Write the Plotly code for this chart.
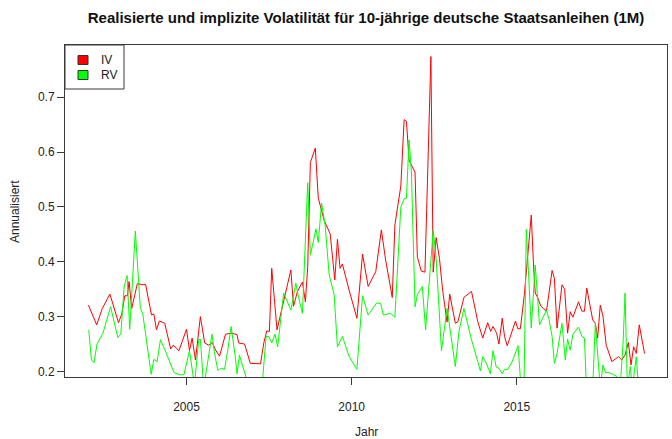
import plotly.graph_objects as go

# Implied volatility (IV)
iv_year = [2002.03, 2002.15, 2002.28, 2002.45, 2002.68, 2002.94, 2003.04, 2003.13, 2003.21, 2003.26,
           2003.34, 2003.51, 2003.71, 2003.76, 2003.94, 2004.01, 2004.09, 2004.18, 2004.34, 2004.52,
           2004.60, 2004.77, 2005.00, 2005.09, 2005.17, 2005.27, 2005.42, 2005.55, 2005.67, 2005.78,
           2005.88, 2006.00, 2006.18, 2006.38, 2006.53, 2006.58, 2006.76, 2006.93, 2007.24, 2007.34,
           2007.43, 2007.51, 2007.58, 2007.74, 2007.98, 2008.16, 2008.24, 2008.36, 2008.51, 2008.60,
           2008.67, 2008.75, 2008.90, 2008.99, 2009.17, 2009.35, 2009.49, 2009.57, 2009.65, 2009.72,
           2009.92, 2010.16, 2010.33, 2010.50, 2010.73, 2010.90, 2011.03, 2011.23, 2011.31, 2011.49,
           2011.59, 2011.66, 2011.74, 2011.81, 2011.92, 2011.99, 2012.11, 2012.22, 2012.40, 2012.47,
           2012.56, 2012.66, 2012.76, 2012.89, 2012.97, 2013.14, 2013.22, 2013.40, 2013.63, 2013.82,
           2013.97, 2014.12, 2014.21, 2014.28, 2014.39, 2014.46, 2014.56, 2014.63, 2014.71, 2014.83,
           2014.96, 2015.03, 2015.11, 2015.23, 2015.34, 2015.44, 2015.51, 2015.56, 2015.64, 2015.73,
           2015.81, 2015.90, 2015.97, 2016.07, 2016.14, 2016.22, 2016.37, 2016.45, 2016.54, 2016.62,
           2016.70, 2016.87, 2016.97, 2017.05, 2017.12, 2017.23, 2017.30, 2017.38, 2017.45, 2017.53,
           2017.61, 2017.71, 2017.88, 2018.08, 2018.18, 2018.28, 2018.38, 2018.46, 2018.54, 2018.62,
           2018.71, 2018.87]
iv_value = [0.321, 0.303, 0.285, 0.315, 0.341, 0.289, 0.305, 0.338, 0.338, 0.364,
            0.315, 0.360, 0.358, 0.359, 0.303, 0.305, 0.276, 0.292, 0.288, 0.241,
            0.248, 0.238, 0.277, 0.238, 0.261, 0.221, 0.300, 0.252, 0.248, 0.253,
            0.239, 0.228, 0.268, 0.270, 0.267, 0.252, 0.250, 0.215, 0.214, 0.252,
            0.274, 0.273, 0.388, 0.276, 0.338, 0.385, 0.319, 0.346, 0.363, 0.327,
            0.391, 0.581, 0.607, 0.516, 0.475, 0.451, 0.367, 0.441, 0.388, 0.396,
            0.349, 0.297, 0.414, 0.355, 0.382, 0.458, 0.403, 0.335, 0.467, 0.538,
            0.659, 0.656, 0.585, 0.576, 0.563, 0.409, 0.383, 0.381, 0.774, 0.381,
            0.444, 0.406, 0.346, 0.290, 0.341, 0.288, 0.291, 0.335, 0.346, 0.291,
            0.261, 0.289, 0.273, 0.282, 0.270, 0.250, 0.297, 0.264, 0.247, 0.268,
            0.292, 0.278, 0.278, 0.340, 0.425, 0.485, 0.391, 0.343, 0.334, 0.319,
            0.315, 0.310, 0.340, 0.384, 0.370, 0.279, 0.358, 0.350, 0.270, 0.309,
            0.299, 0.327, 0.310, 0.310, 0.352, 0.318, 0.294, 0.288, 0.261, 0.321,
            0.301, 0.248, 0.218, 0.227, 0.221, 0.230, 0.253, 0.212, 0.245, 0.233,
            0.285, 0.233]

# Realized volatility (RV)
rv_year = [2002.04, 2002.12, 2002.20, 2002.29, 2002.47, 2002.70, 2002.92, 2003.01, 2003.11, 2003.20,
           2003.28, 2003.45, 2003.60, 2003.68, 2003.93, 2004.01, 2004.11, 2004.21, 2004.37, 2004.52,
           2004.62, 2004.79, 2004.92, 2005.09, 2005.19, 2005.24, 2005.37, 2005.42, 2005.52, 2005.77,
           2005.85, 2005.95, 2006.05, 2006.15, 2006.25, 2006.35, 2006.47, 2006.53, 2006.60, 2006.73,
           2006.81, 2006.95, 2007.20, 2007.31, 2007.41, 2007.49, 2007.58, 2007.68, 2007.76, 2007.94,
           2008.16, 2008.31, 2008.39, 2008.51, 2008.67, 2008.75, 2008.92, 2008.99, 2009.09, 2009.20,
           2009.32, 2009.47, 2009.57, 2009.72, 2009.92, 2010.16, 2010.33, 2010.50, 2010.76, 2010.88,
           2010.96, 2011.18, 2011.31, 2011.49, 2011.59, 2011.66, 2011.74, 2011.81, 2011.92, 2011.99,
           2012.14, 2012.24, 2012.47, 2012.56, 2012.72, 2012.89, 2012.97, 2013.14, 2013.25, 2013.40,
           2013.63, 2013.90, 2013.97, 2014.08, 2014.20, 2014.28, 2014.38, 2014.46, 2014.56, 2014.63,
           2014.73, 2014.86, 2015.04, 2015.13, 2015.22, 2015.29, 2015.44, 2015.56, 2015.69, 2015.81,
           2015.90, 2015.97, 2016.07, 2016.14, 2016.22, 2016.37, 2016.47, 2016.54, 2016.62, 2016.70,
           2016.87, 2016.97, 2017.05, 2017.11, 2017.30, 2017.38, 2017.53, 2017.61, 2017.69, 2017.79,
           2017.88, 2018.03, 2018.13, 2018.22, 2018.28, 2018.35, 2018.44, 2018.50, 2018.62, 2018.69]
rv_value = [0.276, 0.221, 0.216, 0.250, 0.270, 0.318, 0.262, 0.268, 0.354, 0.375,
            0.277, 0.456, 0.317, 0.303, 0.195, 0.222, 0.218, 0.258, 0.236, 0.215,
            0.198, 0.194, 0.194, 0.238, 0.200, 0.175, 0.258, 0.259, 0.170, 0.268,
            0.233, 0.202, 0.206, 0.204, 0.239, 0.282, 0.230, 0.196, 0.230, 0.203,
            0.188, 0.170, 0.170, 0.190, 0.264, 0.264, 0.252, 0.268, 0.245, 0.343,
            0.312, 0.361, 0.336, 0.306, 0.544, 0.412, 0.460, 0.435, 0.507, 0.465,
            0.376, 0.340, 0.245, 0.264, 0.228, 0.204, 0.338, 0.303, 0.325, 0.324,
            0.303, 0.306, 0.299, 0.500, 0.515, 0.516, 0.622, 0.564, 0.318, 0.340,
            0.355, 0.276, 0.458, 0.406, 0.238, 0.315, 0.282, 0.209, 0.273, 0.315,
            0.258, 0.201, 0.227, 0.215, 0.196, 0.238, 0.208, 0.206, 0.196, 0.204,
            0.204, 0.218, 0.247, 0.170, 0.170, 0.459, 0.279, 0.394, 0.285, 0.299,
            0.312, 0.297, 0.264, 0.215, 0.233, 0.288, 0.221, 0.259, 0.239, 0.268,
            0.281, 0.264, 0.261, 0.170, 0.170, 0.288, 0.170, 0.212, 0.198, 0.198,
            0.196, 0.191, 0.170, 0.252, 0.343, 0.170, 0.209, 0.170, 0.227, 0.170]

series_names = ["IV", "RV"]
series_colors = ["#ff0000", "#00ff00"]
x_ticks = [2005, 2010, 2015]
y_ticks = [0.2, 0.3, 0.4, 0.5, 0.6, 0.7]

title_text = "Realisierte und implizite Volatilität für 10-jährige deutsche Staatsanleihen (1M)"

FONT = "Liberation Sans, Arial, Helvetica, sans-serif"
AX = "#3a3a3a"

W, H = 672, 439
ML, MR, MT, MB = 65, 5, 45, 62
PW, PH = W - ML - MR, H - MT - MB


def px(x):  # pixel -> paper x
    return (x - ML) / PW


def py(y):  # pixel -> paper y
    return (H - MB - y) / PH


fig = go.Figure()
for yrs, vals, col, nm in [(iv_year, iv_value, series_colors[0], series_names[0]),
                           (rv_year, rv_value, series_colors[1], series_names[1])]:
    fig.add_trace(go.Scatter(x=yrs, y=vals, mode="lines", name=nm, line=dict(color=col, width=1),
                             showlegend=False, hoverinfo="skip"))

# R-style legend (box with filled squares)
shapes = [dict(type="rect", xref="paper", yref="paper", x0=px(65), x1=px(124), y0=py(45), y1=py(89),
               line=dict(color=AX, width=1), fillcolor="white", layer="above")]
annotations = []
for i, (name, col) in enumerate(zip(series_names, series_colors)):
    cy = 60 + 15 * i
    shapes.append(dict(type="rect", xref="paper", yref="paper", x0=px(78), x1=px(88),
                       y0=py(cy + 4.5), y1=py(cy - 4.5), line=dict(color="#333333", width=1),
                       fillcolor=col, layer="above"))
    annotations.append(dict(text=name, xref="paper", yref="paper", x=px(99), y=py(cy),
                            xanchor="left", yanchor="middle", showarrow=False,
                            font=dict(size=12, color="#222222")))

annotations += [
    dict(text="Jahr", xref="paper", yref="paper", x=px(366), y=py(432),
         xanchor="center", yanchor="middle", showarrow=False, font=dict(size=12)),
    dict(text="Annualisiert", xref="paper", yref="paper", x=px(15), y=py(212),
         xanchor="center", yanchor="middle", showarrow=False, textangle=-90, font=dict(size=12)),
]

fig.update_layout(
    width=W, height=H,
    paper_bgcolor="white", plot_bgcolor="white",
    margin=dict(l=ML, r=MR, t=MT, b=MB),
    font=dict(family=FONT, size=12, color="#222222"),
    title=dict(text="<b>" + title_text + "</b>", x=366 / W, xanchor="center",
               y=1 - 18 / H, yanchor="middle", font=dict(size=15, color="#111111")),
    showlegend=False,
    xaxis=dict(range=[2001.32, 2019.55], tickvals=x_ticks, ticktext=[str(t) for t in x_ticks],
               showgrid=False, zeroline=False, showline=True, mirror=True, linecolor=AX,
               linewidth=1, ticks="outside", ticklen=7, tickcolor=AX, ticklabelstandoff=12,
               tickfont=dict(size=12, color="#222222")),
    yaxis=dict(range=[0.19, 0.795], tickvals=y_ticks, ticktext=[f"{t:.1f}" for t in y_ticks],
               showgrid=False, zeroline=False, showline=True, mirror=True, linecolor=AX,
               linewidth=1, ticks="outside", ticklen=7, tickcolor=AX,
               tickfont=dict(size=12, color="#222222")),
    shapes=shapes,
    annotations=annotations,
)

fig.write_html("out.html", config={"displayModeBar": False},
               post_script="document.body.style.margin='0';")
